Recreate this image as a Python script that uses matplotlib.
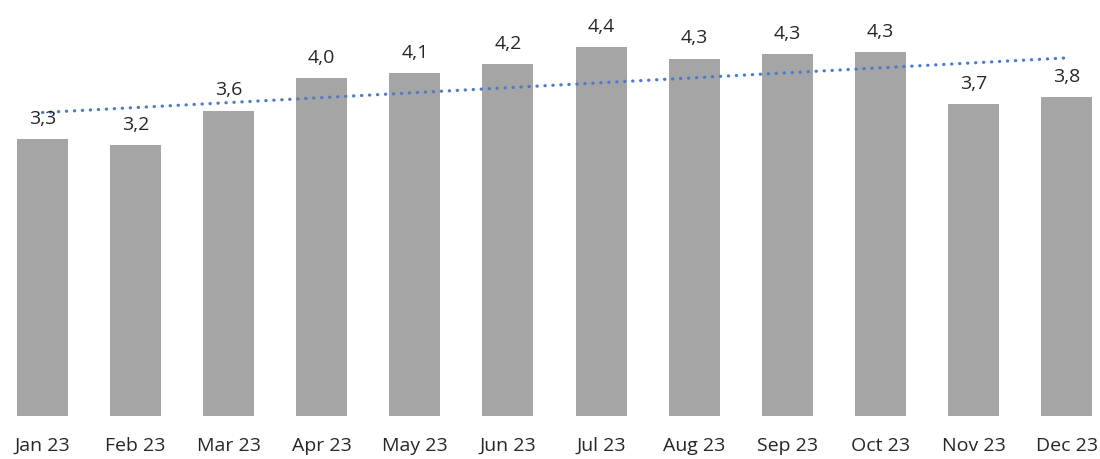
import matplotlib
matplotlib.use("Agg")
import matplotlib.pyplot as plt
import numpy as np

# Monatswerte 2023
months = ["Jan 23", "Feb 23", "Mar 23", "Apr 23", "May 23", "Jun 23",
          "Jul 23", "Aug 23", "Sep 23", "Oct 23", "Nov 23", "Dec 23"]
values = [3.30, 3.23, 3.64, 4.03, 4.09, 4.19, 4.40, 4.26, 4.31, 4.34, 3.72, 3.80]

plt.rcParams['font.family'] = ['Open Sans', 'DejaVu Sans']

fig = plt.figure(figsize=(11, 4.59), dpi=100)
ax = fig.add_axes([0, 0.0937, 1, 0.9063])

x = np.arange(len(months))
ax.bar(x, values, width=0.548, color='#a5a5a5', zorder=1)

# Beschriftung der Balken (Dezimalkomma)
for xi, v in zip(x, values):
    ax.annotate(f"{v:.1f}".replace('.', ','), (xi, v), xytext=(0, 11),
                textcoords='offset points', ha='center', va='baseline',
                fontsize=14, color='#262626')

# lineare Trendlinie, gepunktet
slope, intercept = np.polyfit(x, values, 1)
ax.plot(x, slope * x + intercept, color='#4a7cc8', linewidth=2.3,
        linestyle=(0, (0.1, 2.4)), dash_capstyle='round', zorder=2)

ax.set_xlim(-0.4565, 11.359)
ax.set_ylim(0, 4.958)
ax.set_xticks(x)
ax.set_xticklabels(months, fontsize=14, color='#262626')
ax.tick_params(axis='x', length=0, pad=15)
ax.set_yticks([])
for s in ax.spines.values():
    s.set_visible(False)

fig.savefig("out.png", dpi=100)
